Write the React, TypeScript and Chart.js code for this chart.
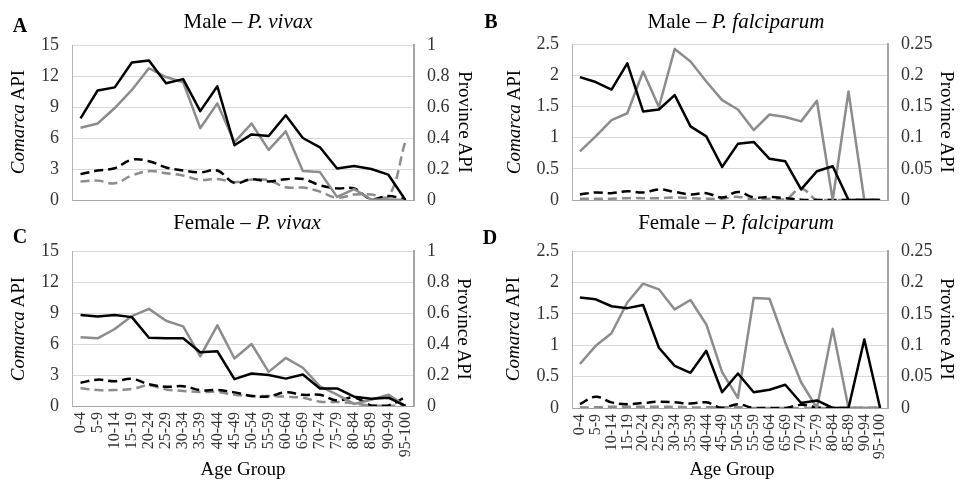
import React, { useEffect, useRef } from "react";
import { Chart, registerables } from "chart.js";

Chart.register(...registerables);

const ageGroups = [
  "0-4", "5-9", "10-14", "15-19", "20-24", "25-29", "30-34", "35-39", "40-44", "45-49",
  "50-54", "55-59", "60-64", "65-69", "70-74", "75-79", "80-84", "85-89", "90-94", "95-100",
];

// Panel A – Male, P. vivax
const maleVivaxComarcaBlack = [7.9, 10.6, 10.9, 13.3, 13.5, 11.3, 11.7, 8.6, 11.0, 5.3, 6.35, 6.2, 8.2, 6.0, 5.1, 3.05, 3.3, 3.0, 2.45, 0];
const maleVivaxComarcaGrey = [7.0, 7.4, 8.9, 10.65, 12.75, 11.9, 11.4, 6.95, 9.35, 5.6, 7.4, 4.85, 6.65, 2.8, 2.7, 0.3, 1.05, 0.05, 0.05, 0];
const maleVivaxProvinceBlack = [0.167, 0.19, 0.205, 0.26, 0.25, 0.21, 0.19, 0.178, 0.19, 0.11, 0.134, 0.12, 0.134, 0.136, 0.095, 0.075, 0.074, 0.005, 0.026, 0.003];
const maleVivaxProvinceGrey = [0.12, 0.125, 0.108, 0.158, 0.186, 0.173, 0.158, 0.13, 0.136, 0.115, 0.132, 0.128, 0.082, 0.08, 0.054, 0.015, 0.035, 0.035, 0.02, 0.38];

// Panel B – Male, P. falciparum
const maleFalcComarcaBlack = [1.97, 1.89, 1.77, 2.19, 1.42, 1.45, 1.68, 1.18, 1.02, 0.53, 0.9, 0.93, 0.66, 0.62, 0.17, 0.46, 0.54, 0, 0, 0];
const maleFalcComarcaGrey = [0.78, 1.02, 1.28, 1.39, 2.06, 1.49, 2.42, 2.22, 1.9, 1.6, 1.45, 1.12, 1.37, 1.33, 1.26, 1.59, 0, 1.74, 0, 0];
const maleFalcProvinceBlack = [0.009, 0.012, 0.011, 0.014, 0.012, 0.017, 0.013, 0.009, 0.011, 0.004, 0.013, 0.004, 0.005, 0.003, 0.0005, 0, 0, 0, 0, 0];
const maleFalcProvinceGrey = [0.002, 0.002, 0.002, 0.003, 0.003, 0.003, 0.004, 0.003, 0.002, 0.002, 0.005, 0.001, 0.002, 0.001, 0.018, 0, 0, 0, 0, 0];

// Panel C – Female, P. vivax
const femaleVivaxComarcaBlack = [8.8, 8.65, 8.8, 8.6, 6.6, 6.55, 6.55, 5.2, 5.3, 2.6, 3.15, 3.0, 2.65, 3.05, 1.7, 1.7, 0.9, 0.7, 0.8, 0];
const femaleVivaxComarcaGrey = [6.65, 6.55, 7.45, 8.7, 9.4, 8.25, 7.7, 4.8, 7.8, 4.6, 6.0, 3.3, 4.65, 3.7, 1.9, 1.1, 0.2, 0.6, 1.1, 0];
const femaleVivaxProvinceBlack = [0.15, 0.17, 0.16, 0.175, 0.14, 0.124, 0.128, 0.102, 0.103, 0.088, 0.065, 0.062, 0.088, 0.072, 0.072, 0.035, 0.055, 0.004, 0.004, 0.058];
const femaleVivaxProvinceGrey = [0.115, 0.103, 0.103, 0.11, 0.132, 0.107, 0.097, 0.09, 0.09, 0.073, 0.064, 0.064, 0.06, 0.053, 0.028, 0.026, 0.017, 0.002, 0.002, 0.002];

// Panel D – Female, P. falciparum
const femaleFalcComarcaBlack = [1.76, 1.73, 1.62, 1.59, 1.64, 0.96, 0.67, 0.56, 0.91, 0.25, 0.55, 0.25, 0.29, 0.37, 0.08, 0.12, 0, 0, 1.09, 0];
const femaleFalcComarcaGrey = [0.7, 0.99, 1.19, 1.68, 1.98, 1.89, 1.57, 1.72, 1.33, 0.57, 0.16, 1.75, 1.74, 1.04, 0.41, 0, 1.26, 0, 0, 0];
const femaleFalcProvinceBlack = [0.006, 0.018, 0.009, 0.006, 0.008, 0.01, 0.009, 0.007, 0.009, 0, 0.006, 0, 0, 0, 0.005, 0.001, 0, 0, 0, 0];
const femaleFalcProvinceGrey = [0.001, 0.001, 0.002, 0.002, 0.002, 0.002, 0.002, 0.001, 0.001, 0.001, 0.001, 0, 0, 0, 0, 0, 0, 0, 0, 0];

const SERIF = "'Liberation Serif', 'Times New Roman', Times, serif";
const BLACK = "#000000";
const GREY = "#8c8c8c";
const TICK = "#333333";

type Area = { left: number; right: number; top: number; bottom: number };

type PanelProps = {
  x: number;
  y: number;
  w: number;
  h: number;
  area: Area;
  showX: boolean;
  leftMax: number;
  leftStep: number;
  rightMax: number;
  rightStep: number;
  solidBlack: number[];
  solidGrey: number[];
  dashBlack: number[];
  dashGrey: number[];
};

const fmt = (v: any) => String(+Number(v).toFixed(3));

function Panel(p: PanelProps) {
  const ref = useRef<HTMLCanvasElement>(null);
  useEffect(() => {
    const chart = new Chart(ref.current as HTMLCanvasElement, {
      type: "line",
      data: {
        labels: ageGroups,
        datasets: [
          { data: p.solidBlack, borderColor: BLACK, borderWidth: 2.5, yAxisID: "y", tension: 0 },
          { data: p.solidGrey, borderColor: GREY, borderWidth: 2.5, yAxisID: "y", tension: 0 },
          { data: p.dashBlack, borderColor: BLACK, borderWidth: 2.5, borderDash: [9, 5], yAxisID: "y1", tension: 0.4 },
          { data: p.dashGrey, borderColor: GREY, borderWidth: 2.5, borderDash: [9, 5], yAxisID: "y1", tension: 0.4 },
        ],
      },
      options: {
        responsive: false,
        animation: false,
        layout: { padding: { top: p.area.top, left: 0, right: 0, bottom: 0 } },
        plugins: { legend: { display: false }, tooltip: { enabled: false }, title: { display: false } },
        elements: { point: { radius: 0, hoverRadius: 0 }, line: { borderCapStyle: "butt", borderJoinStyle: "round" } },
        scales: {
          x: {
            type: "category",
            offset: true,
            grid: { display: false, drawTicks: false },
            border: { display: true, color: "#a6a6a6", width: 1 },
            ticks: {
              display: p.showX,
              autoSkip: false,
              maxRotation: 90,
              minRotation: 90,
              padding: 6,
              color: TICK,
              font: { family: SERIF, size: 16 },
            },
            afterFit: (s: any) => {
              s.height = p.h - p.area.bottom;
            },
          },
          y: {
            position: "left",
            min: 0,
            max: p.leftMax,
            grid: { color: "#d9d9d9", lineWidth: 1, drawTicks: false },
            border: { display: true, color: "#b3b3b3", width: 1 },
            ticks: {
              stepSize: p.leftStep,
              padding: 13,
              color: TICK,
              font: { family: SERIF, size: 18 },
              callback: fmt,
            },
            afterFit: (s: any) => {
              s.width = p.area.left;
            },
          },
          y1: {
            position: "right",
            min: 0,
            max: p.rightMax,
            grid: { drawOnChartArea: false, drawTicks: false },
            border: { display: true, color: "#a6a6a6", width: 2 },
            ticks: {
              stepSize: p.rightStep,
              padding: 13,
              color: TICK,
              font: { family: SERIF, size: 18 },
              callback: fmt,
            },
            afterFit: (s: any) => {
              s.width = p.w - p.area.right;
            },
          },
        },
      },
    } as any);
    return () => chart.destroy();
  }, []);
  return (
    <canvas
      ref={ref}
      width={p.w}
      height={p.h}
      style={{ position: "absolute", left: p.x, top: p.y, width: p.w, height: p.h }}
    />
  );
}

function Label(props: { x: number; y: number; size: number; rotate?: number; bold?: boolean; children: React.ReactNode }) {
  return (
    <div
      style={{
        position: "absolute",
        left: props.x,
        top: props.y,
        transform: `translate(-50%, -50%) rotate(${props.rotate || 0}deg)`,
        fontFamily: SERIF,
        fontSize: props.size,
        fontWeight: props.bold ? "bold" : "normal",
        whiteSpace: "nowrap",
        lineHeight: 1,
        color: "#000",
      }}
    >
      {props.children}
    </div>
  );
}

export default function App() {
  return (
    <div style={{ position: "absolute", left: 0, top: 0, width: 969, height: 480, background: "#fff", overflow: "hidden" }}>
      <Panel
        x={0} y={0} w={485} h={235}
        area={{ left: 72, right: 414, top: 45, bottom: 200 }}
        showX={false}
        leftMax={15} leftStep={3} rightMax={1} rightStep={0.2}
        solidBlack={maleVivaxComarcaBlack} solidGrey={maleVivaxComarcaGrey}
        dashBlack={maleVivaxProvinceBlack} dashGrey={maleVivaxProvinceGrey}
      />
      <Panel
        x={485} y={0} w={484} h={235}
        area={{ left: 87, right: 403, top: 44, bottom: 200 }}
        showX={false}
        leftMax={2.5} leftStep={0.5} rightMax={0.25} rightStep={0.05}
        solidBlack={maleFalcComarcaBlack} solidGrey={maleFalcComarcaGrey}
        dashBlack={maleFalcProvinceBlack} dashGrey={maleFalcProvinceGrey}
      />
      <Panel
        x={0} y={210} w={485} h={270}
        area={{ left: 72, right: 414, top: 41, bottom: 196 }}
        showX={true}
        leftMax={15} leftStep={3} rightMax={1} rightStep={0.2}
        solidBlack={femaleVivaxComarcaBlack} solidGrey={femaleVivaxComarcaGrey}
        dashBlack={femaleVivaxProvinceBlack} dashGrey={femaleVivaxProvinceGrey}
      />
      <Panel
        x={485} y={210} w={484} h={270}
        area={{ left: 87, right: 403, top: 41, bottom: 198 }}
        showX={true}
        leftMax={2.5} leftStep={0.5} rightMax={0.25} rightStep={0.05}
        solidBlack={femaleFalcComarcaBlack} solidGrey={femaleFalcComarcaGrey}
        dashBlack={femaleFalcProvinceBlack} dashGrey={femaleFalcProvinceGrey}
      />

      <Label x={20} y={25} size={20} bold>A</Label>
      <Label x={491} y={21} size={20} bold>B</Label>
      <Label x={20} y={236} size={20} bold>C</Label>
      <Label x={490} y={237} size={20} bold>D</Label>

      <Label x={248} y={21} size={21}>Male – <i>P. vivax</i></Label>
      <Label x={736} y={21} size={21}>Male – <i>P. falciparum</i></Label>
      <Label x={247} y={222} size={21}>Female – <i>P. vivax</i></Label>
      <Label x={736} y={222} size={21}>Female – <i>P. falciparum</i></Label>

      <Label x={17} y={122} size={19} rotate={-90}><i>Comarca</i> API</Label>
      <Label x={513} y={122} size={19} rotate={-90}><i>Comarca</i> API</Label>
      <Label x={17} y={329} size={19} rotate={-90}><i>Comarca</i> API</Label>
      <Label x={512} y={329} size={19} rotate={-90}><i>Comarca</i> API</Label>

      <Label x={465} y={122} size={19} rotate={90}>Province API</Label>
      <Label x={947} y={122} size={19} rotate={90}>Province API</Label>
      <Label x={464} y={329} size={19} rotate={90}>Province API</Label>
      <Label x={947} y={329} size={19} rotate={90}>Province API</Label>

      <Label x={243} y={468} size={19}>Age Group</Label>
      <Label x={732} y={468} size={19}>Age Group</Label>
    </div>
  );
}
